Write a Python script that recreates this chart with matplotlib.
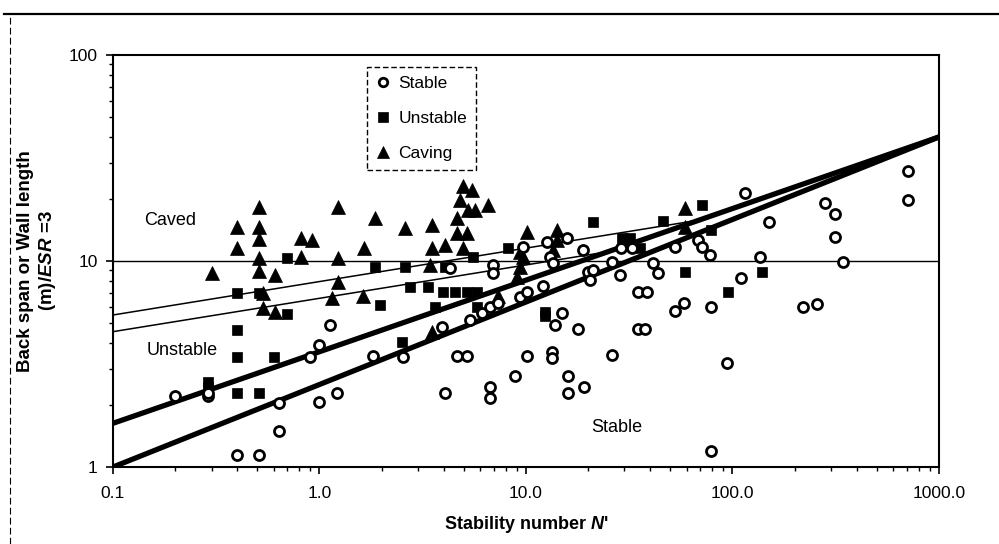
import matplotlib
matplotlib.use('Agg')
import matplotlib.pyplot as plt
from matplotlib.lines import Line2D
from matplotlib.ticker import NullFormatter, LogLocator

plt.rcParams['font.family'] = ['Liberation Sans', 'DejaVu Sans']
plt.rcParams['mathtext.fontset'] = 'custom'
plt.rcParams['mathtext.it'] = 'Liberation Sans:italic:bold'
plt.rcParams['mathtext.rm'] = 'Liberation Sans:bold'

# ---------------- data ----------------
stable_n = [0.20, 0.29, 0.29, 0.40, 0.51, 0.64, 0.64, 0.90, 1.0, 1.0, 1.22, 1.12,
            1.82, 2.54, 4.05, 4.63, 5.18, 6.7, 6.7, 8.85, 10.1, 3.92, 4.29, 6.92,
            6.92, 5.36, 6.12, 6.7, 7.31, 9.35, 10.1, 12.1, 9.67, 12.6, 15.8, 13.1,
            13.5, 14.9, 13.8, 17.9, 13.4, 13.4, 16.0, 16.0, 19.1, 18.9, 20.0, 20.4,
            21.1, 26.1, 28.5, 28.8, 32.6, 26.1, 34.9, 38.5, 34.9, 37.7, 41.2, 43.6,
            52.7, 52.7, 58.2, 68.1, 71.2, 77.8, 78.7, 78.7, 94, 110, 115, 136, 150,
            219, 256, 281, 313, 313, 343, 708, 708]
stable_y = [2.2, 2.2, 2.3, 1.14, 1.14, 1.5, 2.05, 3.42, 3.9, 2.07, 2.3, 4.9,
            3.46, 3.42, 2.3, 3.46, 3.46, 2.45, 2.16, 2.77, 3.46, 4.8, 9.25, 9.6,
            8.7, 5.2, 5.6, 6.0, 6.25, 6.7, 7.1, 7.6, 11.7, 12.4, 12.9, 10.5,
            9.8, 5.6, 4.9, 4.7, 3.6, 3.4, 2.77, 2.3, 2.45, 11.3, 8.8, 8.1,
            9.0, 9.9, 8.55, 11.6, 11.6, 3.5, 7.1, 7.1, 4.7, 4.7, 9.8, 8.7,
            11.7, 5.7, 6.25, 12.6, 11.7, 10.7, 6.0, 1.2, 3.2, 8.3, 21.4, 10.5, 15.5,
            6.0, 6.2, 19.1, 16.9, 13.1, 9.9, 27.3, 19.8]

unstable_n = [0.29, 0.29, 0.40, 0.40, 0.40, 0.40, 0.51, 0.51, 0.60, 0.70, 0.70,
              1.86, 1.96, 2.51, 2.59, 2.74, 3.35, 3.96, 4.53, 5.18, 5.79, 4.05,
              3.62, 5.53, 5.79, 8.18, 12.4, 12.4, 21.1, 29.2, 31.9, 35.6, 46.1,
              71.2, 78.7, 58.9, 139, 95]
unstable_y = [2.6, 2.45, 7.0, 4.6, 3.42, 2.3, 7.0, 2.3, 3.42, 10.3, 5.5,
              9.35, 6.1, 4.05, 9.35, 7.5, 7.5, 7.1, 7.1, 7.1, 7.1, 9.35,
              6.0, 10.5, 6.0, 11.6, 5.65, 5.4, 15.5, 12.9, 12.9, 11.6, 15.6,
              18.7, 14.1, 8.8, 8.8, 7.1]

caving_n = [0.30, 0.40, 0.40, 0.51, 0.51, 0.51, 0.51, 0.51, 0.61, 0.53, 0.53, 0.61,
            0.81, 0.92, 0.81, 1.23, 1.23, 1.23, 1.15, 1.64, 1.86, 1.63, 2.59, 3.51,
            3.51, 4.05, 3.43, 4.95, 5.47, 4.79, 5.24, 5.66, 6.55, 4.63, 4.63, 5.18,
            4.95, 10.1, 14.1, 14.1, 13.5, 9.67, 9.35, 9.04, 7.31, 3.51, 58.9, 58.9,
            9.35]
caving_y = [8.7, 14.6, 11.6, 18.3, 14.6, 12.8, 10.3, 8.9, 8.55, 7.0, 5.9, 5.65,
            12.9, 12.6, 10.5, 18.3, 10.3, 7.9, 6.6, 11.6, 16.2, 6.8, 14.5, 15.0,
            11.6, 12.0, 9.6, 23.1, 22.1, 19.8, 17.7, 17.7, 18.7, 16.2, 13.7, 13.7,
            11.6, 13.8, 14.1, 12.6, 11.3, 10.5, 9.35, 8.4, 6.8, 4.5, 18.1, 14.6,
            11.0]

# boundary lines (N', span) end points
thick_lower_n = [0.1, 1000]
thick_lower_y = [1.0, 40]
thick_upper_n = [0.1, 1000]
thick_upper_y = [1.63, 40]
thin_upper_n = [0.1, 69]
thin_upper_y = [5.47, 15.8]
thin_lower_n = [0.1, 25]
thin_lower_y = [4.54, 11.1]
caved_line_n = [0.1, 1000]
caved_line_y = [10, 10]

x_ticks = [0.1, 1, 10, 100, 1000]
x_tick_labels = ['0.1', '1.0', '10.0', '100.0', '1000.0']
y_ticks = [1, 10, 100]
y_tick_labels = ['1', '10', '100']

# ---------------- figure ----------------
fig = plt.figure(figsize=(9.99, 5.44), dpi=100)
ax = fig.add_axes([0.1131, 0.1415, 0.8268, 0.7574])
ax.set_xscale('log')
ax.set_yscale('log')
ax.set_xlim(0.1, 1000)
ax.set_ylim(1, 100)

ax.plot(caved_line_n, caved_line_y, color='black', lw=1.0, zorder=2)
ax.plot(thin_upper_n, thin_upper_y, color='black', lw=1.1, zorder=2)
ax.plot(thin_lower_n, thin_lower_y, color='black', lw=1.1, zorder=2)
ax.plot(thick_lower_n, thick_lower_y, color='black', lw=3.8, zorder=2,
        solid_capstyle='round')
ax.plot(thick_upper_n, thick_upper_y, color='black', lw=3.8, zorder=2,
        solid_capstyle='round')

ax.plot(stable_n, stable_y, linestyle='none', marker='o', ms=7.2, mfc='white',
        mec='black', mew=2.0, label='Stable', zorder=4)
ax.plot(unstable_n, unstable_y, linestyle='none', marker='s', ms=7.8, mfc='black',
        mec='black', mew=0.5, label='Unstable', zorder=3)
ax.plot(caving_n, caving_y, linestyle='none', marker='^', ms=10, mfc='black',
        mec='black', mew=0.5, label='Caving', zorder=3)

ax.set_xticks(x_ticks)
ax.set_xticklabels(x_tick_labels)
ax.set_yticks(y_ticks)
ax.set_yticklabels(y_tick_labels)
ax.xaxis.set_minor_locator(LogLocator(base=10, subs=range(2, 10)))
ax.yaxis.set_minor_locator(LogLocator(base=10, subs=range(2, 10)))
ax.xaxis.set_minor_formatter(NullFormatter())
ax.yaxis.set_minor_formatter(NullFormatter())
ax.tick_params(axis='both', which='major', direction='out', length=5, width=1.2,
               labelsize=12.5, pad=6)
ax.tick_params(axis='both', which='minor', direction='out', length=3, width=1.0)
ax.tick_params(axis='x', which='major', pad=9)
for sp in ax.spines.values():
    sp.set_linewidth(1.5)

ax.set_xlabel("Stability number $\\mathit{N}$'", fontsize=13, fontweight='bold',
              labelpad=9)
ax.set_ylabel("Back span or Wall length\n(m)/$\\mathit{ESR}$ =3", fontsize=13.5,
              fontweight='bold', labelpad=8, linespacing=1.2)

ax.text(0.19, 15.8, 'Caved', fontsize=13, ha='center', va='center')
ax.text(0.216, 3.66, 'Unstable', fontsize=13, ha='center', va='center')
ax.text(27.5, 1.55, 'Stable', fontsize=13, ha='center', va='center')

leg = ax.legend(loc='upper left', bbox_to_anchor=(0.3075, 0.971), frameon=True,
                fancybox=False, edgecolor='black', framealpha=1, fontsize=12.5,
                labelspacing=1.15, handlelength=0.8, handletextpad=0.5,
                borderpad=0.5, borderaxespad=0, markerscale=0.85)
leg.get_frame().set_linestyle((0, (4, 2)))
leg.get_frame().set_linewidth(1.0)

fig.add_artist(Line2D([0.004, 1.0], [0.975, 0.975], transform=fig.transFigure,
                      color='black', lw=1.6))
fig.add_artist(Line2D([0.010, 0.010], [0.0, 0.975], transform=fig.transFigure,
                      color='black', lw=0.8, linestyle=(0, (6, 3))))

fig.savefig('out.png', dpi=100)
